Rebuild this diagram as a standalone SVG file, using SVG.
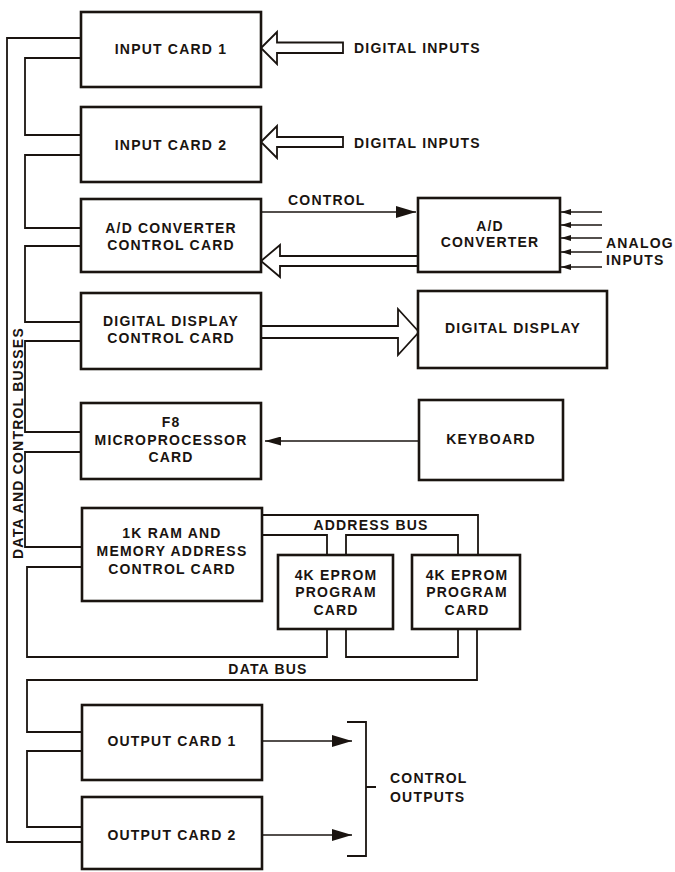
<svg xmlns="http://www.w3.org/2000/svg" width="675" height="872" viewBox="0 0 675 872">
<style>
.box{fill:#fff;stroke:#1a1410;stroke-width:2.6}
.bus{fill:none;stroke:#1a1410;stroke-width:1.8}
.thin{fill:none;stroke:#1a1410;stroke-width:1.3}
.hollow{fill:#fff;stroke:#1a1410;stroke-width:1.8;stroke-linejoin:miter}
.t{font-family:"Liberation Sans",Arial,Helvetica,sans-serif;font-weight:bold;font-size:14px;letter-spacing:1.2px;fill:#1a1410;text-anchor:middle}
.ts{text-anchor:start}
</style>
<defs>
<marker id="ah" viewBox="0 0 20 12" refX="20" refY="6" markerWidth="20" markerHeight="12" markerUnits="userSpaceOnUse" orient="auto"><path d="M0,0 L20,6 L0,12 Z" fill="#1a1410"/></marker>
<marker id="ahk" viewBox="0 0 16 9" refX="16" refY="4.5" markerWidth="16" markerHeight="9" markerUnits="userSpaceOnUse" orient="auto"><path d="M0,0 L16,4.5 L0,9 Z" fill="#1a1410"/></marker>
<marker id="ahs" viewBox="0 0 10 6" refX="10" refY="3" markerWidth="10" markerHeight="6" markerUnits="userSpaceOnUse" orient="auto"><path d="M0,0 L10,3 L0,6 Z" fill="#1a1410"/></marker>
</defs>

<g id="connectors">
  <!-- outer bus -->
  <path class="bus" d="M81,38 H7 V842 H82"/>
  <!-- inner bus links -->
  <path class="bus" d="M81,58 H25 V135 H81"/>
  <path class="bus" d="M81,155 H25 V228 H81"/>
  <path class="bus" d="M81,246 H25 V322 H81"/>
  <path class="bus" d="M81,341 H25 V432 H81"/>
  <path class="bus" d="M81,452 H25 V547 H82"/>
  <!-- data bus -->
  <path class="bus" d="M82,567 H27 V657 H327 V629"/>
  <path class="bus" d="M346,629 V657 H458 V629"/>
  <path class="bus" d="M477,629 V680 H27 V732 H82"/>
  <path class="bus" d="M82,751 H27 V827 H82"/>
  <!-- address bus -->
  <path class="bus" d="M262,515 H478 V555"/>
  <path class="bus" d="M262,535 H327 V555"/>
  <path class="bus" d="M346,555 V535 H458 V555"/>
  <!-- digital inputs hollow arrows -->
  <polygon class="hollow" points="261,48 277,32 277,42.5 343,42.5 343,53 277,53 277,64"/>
  <polygon class="hollow" points="261,142 277,126 277,137 343,137 343,147 277,147 277,158"/>
  <!-- A/D converter to control card -->
  <polygon class="hollow" points="261,261 280,245 280,256 418,256 418,266 280,266 280,277"/>
  <!-- display control to display -->
  <polygon class="hollow" points="419,332 398,309 398,326 261,326 261,338 398,338 398,355"/>
  <!-- control line -->
  <line class="thin" x1="261" y1="212" x2="416" y2="212" marker-end="url(#ah)"/>
  <!-- keyboard -->
  <line class="thin" x1="419" y1="441" x2="265" y2="441" marker-end="url(#ahk)"/>
  <!-- analog inputs -->
  <line class="thin" x1="602" y1="212" x2="561" y2="212" marker-end="url(#ahs)"/>
  <line class="thin" x1="602" y1="225" x2="561" y2="225" marker-end="url(#ahs)"/>
  <line class="thin" x1="602" y1="238" x2="561" y2="238" marker-end="url(#ahs)"/>
  <line class="thin" x1="602" y1="252" x2="561" y2="252" marker-end="url(#ahs)"/>
  <line class="thin" x1="602" y1="267" x2="561" y2="267" marker-end="url(#ahs)"/>
  <!-- control outputs -->
  <line class="thin" x1="262" y1="741" x2="352" y2="741" marker-end="url(#ah)"/>
  <line class="thin" x1="262" y1="835" x2="352" y2="835" marker-end="url(#ah)"/>
  <path class="bus" d="M347,722 H366 V856 H347 M366,787 H376"/>
</g>

<g id="input-card-1"><rect class="box" x="81" y="12" width="180" height="75"/><text class="t" x="171" y="54">INPUT CARD 1</text></g>
<g id="input-card-2"><rect class="box" x="81" y="107" width="180" height="75"/><text class="t" x="171" y="150">INPUT CARD 2</text></g>
<g id="ad-control-card"><rect class="box" x="81" y="199" width="180" height="73"/><text class="t" x="171" y="233">A/D CONVERTER</text><text class="t" x="171" y="250">CONTROL CARD</text></g>
<g id="ad-converter"><rect class="box" x="418" y="198" width="142" height="74"/><text class="t" x="490" y="231">A/D</text><text class="t" x="490" y="247">CONVERTER</text></g>
<g id="display-control-card"><rect class="box" x="81" y="293" width="180" height="76"/><text class="t" x="171" y="326">DIGITAL DISPLAY</text><text class="t" x="171" y="343">CONTROL CARD</text></g>
<g id="digital-display"><rect class="box" x="418" y="291" width="189" height="77"/><text class="t" x="513" y="333">DIGITAL DISPLAY</text></g>
<g id="f8-card"><rect class="box" x="81" y="403" width="180" height="76"/><text class="t" x="171" y="427">F8</text><text class="t" x="171" y="445">MICROPROCESSOR</text><text class="t" x="171" y="462">CARD</text></g>
<g id="keyboard"><rect class="box" x="419" y="400" width="144" height="80"/><text class="t" x="491" y="444">KEYBOARD</text></g>
<g id="ram-card"><rect class="box" x="82" y="508" width="180" height="93"/><text class="t" x="172" y="538">1K RAM AND</text><text class="t" x="172" y="556">MEMORY ADDRESS</text><text class="t" x="172" y="574">CONTROL CARD</text></g>
<g id="eprom-1"><rect class="box" x="278" y="555" width="115" height="74"/><text class="t" x="336" y="580">4K EPROM</text><text class="t" x="336" y="597">PROGRAM</text><text class="t" x="336" y="615">CARD</text></g>
<g id="eprom-2"><rect class="box" x="412" y="555" width="108" height="74"/><text class="t" x="467" y="580">4K EPROM</text><text class="t" x="467" y="597">PROGRAM</text><text class="t" x="467" y="615">CARD</text></g>
<g id="output-card-1"><rect class="box" x="82" y="705" width="180" height="75"/><text class="t" x="172" y="746">OUTPUT CARD 1</text></g>
<g id="output-card-2"><rect class="box" x="82" y="797" width="180" height="72"/><text class="t" x="172" y="840">OUTPUT CARD 2</text></g>

<g id="labels">
  <text class="t ts" x="354" y="53">DIGITAL INPUTS</text>
  <text class="t ts" x="354" y="148">DIGITAL INPUTS</text>
  <text class="t ts" x="288" y="205">CONTROL</text>
  <text class="t ts" x="606" y="248">ANALOG</text>
  <text class="t ts" x="606" y="265">INPUTS</text>
  <text class="t" x="371" y="530">ADDRESS BUS</text>
  <text class="t" x="268" y="674">DATA BUS</text>
  <text class="t ts" x="390" y="783">CONTROL</text>
  <text class="t ts" x="390" y="802">OUTPUTS</text>
  <text class="t" transform="translate(23,443) rotate(-90)">DATA AND CONTROL BUSSES</text>
</g>
</svg>
